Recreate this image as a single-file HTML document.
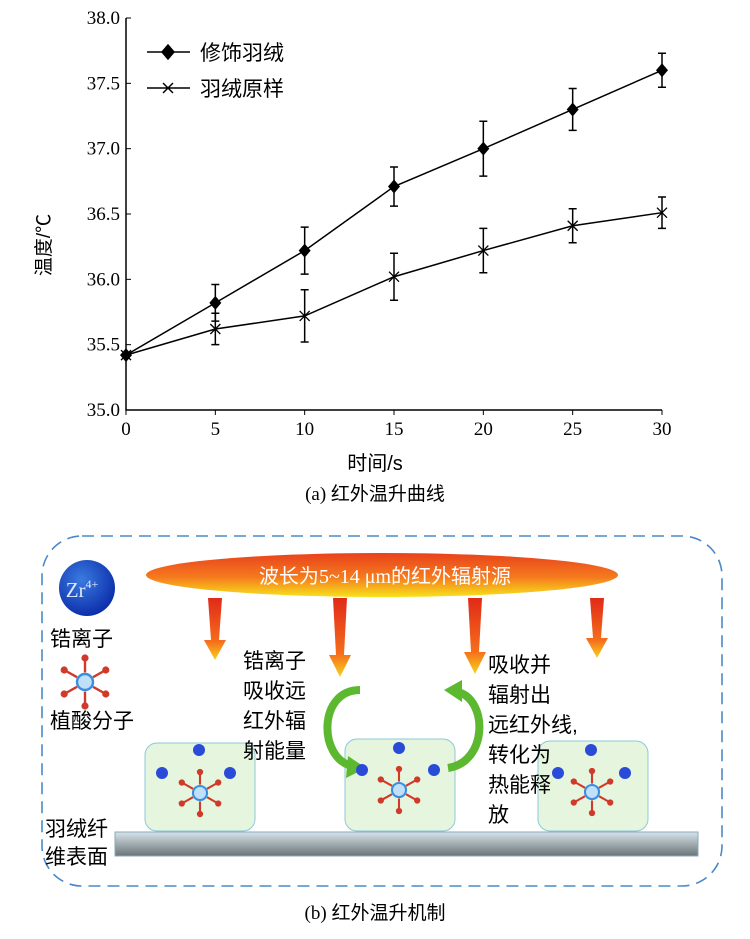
<!DOCTYPE html>
<html><head><meta charset="utf-8"><style>
body{margin:0;background:#fff;width:750px;height:939px;overflow:hidden;font-family:"Liberation Serif","Noto Serif CJK SC",serif}
svg{position:absolute;left:0;top:0}
.cjk{font-family:"Liberation Sans","Noto Sans CJK SC",sans-serif}
</style></head><body>
<svg width="750" height="939">
<defs>
<linearGradient id="ell" x1="0" y1="0" x2="0" y2="1"><stop offset="0" stop-color="#e8421c"/><stop offset="0.55" stop-color="#f57a1e"/><stop offset="1" stop-color="#f7e21a"/></linearGradient>
<linearGradient id="arr" x1="0" y1="0" x2="0" y2="1"><stop offset="0" stop-color="#e02a18"/><stop offset="0.7" stop-color="#f56d1c"/><stop offset="1" stop-color="#f8d21a"/></linearGradient>
<radialGradient id="zr" cx="0.4" cy="0.35" r="0.7"><stop offset="0" stop-color="#3a7be0"/><stop offset="1" stop-color="#0a2aa8"/></radialGradient>
<linearGradient id="bar" x1="0" y1="0" x2="0" y2="1"><stop offset="0" stop-color="#d8e4ea"/><stop offset="1" stop-color="#6a7478"/></linearGradient>
<g id="mol">
<g stroke="#d03a2a" stroke-width="3" fill="#d03a2a">
<line x1="0" y1="-12" x2="0" y2="-30"/><line x1="0" y1="12" x2="0" y2="30"/>
<line x1="-10" y1="-6" x2="-26" y2="-15"/><line x1="10" y1="-6" x2="26" y2="-15"/>
<line x1="-10" y1="6" x2="-26" y2="15"/><line x1="10" y1="6" x2="26" y2="15"/>
<circle cx="0" cy="-30" r="3"/><circle cx="0" cy="30" r="3"/><circle cx="-26" cy="-15" r="3"/><circle cx="26" cy="-15" r="3"/><circle cx="-26" cy="15" r="3"/><circle cx="26" cy="15" r="3"/>
</g>
<circle r="10" fill="#bfe0f8" stroke="#3a8ee0" stroke-width="3"/>
</g>
</defs>

<g id="chart"></g>

<text x="375" y="470" text-anchor="middle" font-size="20" class="cjk">时间/s</text>
<text x="375" y="500" text-anchor="middle" font-size="19">(a) <tspan class="cjk">红外温升曲线</tspan></text>
<text transform="translate(50,245) rotate(-90)" text-anchor="middle" font-size="19" class="cjk">温度/℃</text>

<g>
<rect x="42" y="536" width="680" height="350" rx="40" fill="none" stroke="#4a8ac8" stroke-width="1.6" stroke-dasharray="12,7"/>
<ellipse cx="382" cy="575" rx="236" ry="22" fill="url(#ell)"/>
<text x="385" y="583" text-anchor="middle" font-size="20" fill="#fff"><tspan class="cjk">波长为</tspan>5~14 μm<tspan class="cjk">的红外辐射源</tspan></text>
<g>
<path d="M208,598 L222,598 L219,640 L226,640 L215,660 L204,640 L211,640Z" fill="url(#arr)"/>
<path d="M333,598 L347,598 L344,655 L351,655 L340,677 L329,655 L336,655Z" fill="url(#arr)"/>
<path d="M468,598 L482,598 L479,652 L486,652 L475,674 L464,652 L471,652Z" fill="url(#arr)"/>
<path d="M590,598 L604,598 L601,638 L608,638 L597,658 L586,638 L593,638Z" fill="url(#arr)"/>
</g>
<circle cx="87" cy="588" r="28" fill="url(#zr)"/>
<text x="82" y="597" text-anchor="middle" font-size="21" fill="#dfe8ff">Zr<tspan font-size="12" dy="-9">4+</tspan></text>
<text x="50" y="646" font-size="21" class="cjk">锆离子</text>
<use href="#mol" transform="translate(85,682) scale(0.8)"/>
<text x="50" y="728" font-size="21" class="cjk">植酸分子</text>
<rect x="145" y="743" width="110" height="88" rx="12" fill="#e6f5de" stroke="#8cc8d8"/>
<rect x="345" y="739" width="110" height="92" rx="12" fill="#e6f5de" stroke="#8cc8d8"/>
<rect x="538" y="741" width="110" height="90" rx="12" fill="#e6f5de" stroke="#8cc8d8"/>
<path d="M360,690 C318,690 318,758 352,766" fill="none" stroke="#5cb82e" stroke-width="8"/>
<path d="M348,756 L366,768 L346,778Z" fill="#5cb82e"/>
<path d="M448,768 C488,762 488,700 458,692" fill="none" stroke="#5cb82e" stroke-width="8"/>
<path d="M462,680 L444,690 L462,702Z" fill="#5cb82e"/>
<use href="#mol" transform="translate(200,793) scale(0.7)"/>
<use href="#mol" transform="translate(399,790) scale(0.7)"/>
<use href="#mol" transform="translate(592,792) scale(0.7)"/>
<g fill="#2a4ad8"><circle cx="199" cy="750" r="6"/><circle cx="162" cy="773" r="6"/><circle cx="230" cy="773" r="6"/><circle cx="399" cy="748" r="6"/><circle cx="362" cy="770" r="6"/><circle cx="434" cy="770" r="6"/><circle cx="591" cy="750" r="6"/><circle cx="558" cy="773" r="6"/><circle cx="625" cy="773" r="6"/></g>
<g font-size="21" class="cjk">
<text x="243" y="668">锆离子</text><text x="243" y="698">吸收远</text><text x="243" y="728">红外辐</text><text x="243" y="758">射能量</text>
</g>
<g font-size="21" class="cjk">
<text x="488" y="672">吸收并</text><text x="488" y="702">辐射出</text><text x="488" y="732">远红外线,</text><text x="488" y="762">转化为</text><text x="488" y="792">热能释</text><text x="488" y="822">放</text>
</g>
<rect x="115" y="832" width="583" height="24" fill="url(#bar)" stroke="#8ab"/>
<text x="45" y="836" font-size="21" class="cjk">羽绒纤</text>
<text x="45" y="864" font-size="21" class="cjk">维表面</text>
</g>
<text x="375" y="919" text-anchor="middle" font-size="19">(b) <tspan class="cjk">红外温升机制</tspan></text>
</svg>
<script>
const xs=[0,5,10,15,20,25,30];
const modified=[35.42,35.82,36.22,36.71,37.0,37.3,37.6];
const modifiedErr=[0,0.14,0.18,0.15,0.21,0.16,0.13];
const original=[35.42,35.62,35.72,36.02,36.22,36.41,36.51];
const originalErr=[0,0.12,0.2,0.18,0.17,0.13,0.12];
const yTicks=[35.0,35.5,36.0,36.5,37.0,37.5,38.0];
const xTicks=[0,5,10,15,20,25,30];
const NS="http://www.w3.org/2000/svg";
const g=document.getElementById('chart');
const X=v=>126+v*(662-126)/30;
const Y=v=>410-(v-35)*(410-18)/3;
function mk(t,a,p){const e=document.createElementNS(NS,t);for(const k in a)e.setAttribute(k,a[k]);(p||g).appendChild(e);return e;}
let e=mk('path',{d:`M126,18 L126,410 L662,410`,fill:'none',stroke:'#000','stroke-width':1.5});


yTicks.forEach(v=>{mk('line',{x1:126,x2:131,y1:Y(v),y2:Y(v),stroke:'#000'});
const t=mk('text',{x:120,y:Y(v)+6,'text-anchor':'end','font-size':19});t.textContent=v.toFixed(1);

});
xTicks.forEach(v=>{mk('line',{x1:X(v),x2:X(v),y1:410,y2:415,stroke:'#000'});
const t=mk('text',{x:X(v),y:435,'text-anchor':'middle','font-size':19});t.textContent=v;

});
function series(vals,errs,marker,name){
const p=mk('polyline',{points:xs.map((x,i)=>X(x)+','+Y(vals[i])).join(' '),fill:'none',stroke:'#000','stroke-width':1.5});


xs.forEach((x,i)=>{const cx=X(x),cy=Y(vals[i]);
if(errs[i]>0){const t=Y(vals[i]+errs[i]),b=Y(vals[i]-errs[i]);
mk('path',{d:`M${cx},${t}L${cx},${b}M${cx-4},${t}L${cx+4},${t}M${cx-4},${b}L${cx+4},${b}`,stroke:'#000','stroke-width':1.5,fill:'none'});}
let m;
if(marker==='d')m=mk('path',{d:`M${cx},${cy-7}L${cx+6},${cy}L${cx},${cy+7}L${cx-6},${cy}Z`,fill:'#000'});
else m=mk('path',{d:`M${cx-5},${cy-5}L${cx+5},${cy+5}M${cx-5},${cy+5}L${cx+5},${cy-5}`,stroke:'#000','stroke-width':1.3});

});}
series(modified,modifiedErr,'d','modified-down');
series(original,originalErr,'x','original-down');
const l1=mk('path',{d:'M147,52L190,52M162,52L168,45L174,52L168,59Z',stroke:'#000','stroke-width':1.5,fill:'#000'});


const l2=mk('path',{d:'M147,88L190,88M163,83L173,93M163,93L173,83',stroke:'#000','stroke-width':1.5,fill:'none'});


let t1=mk('text',{x:200,y:60,'font-size':21,class:'cjk'});t1.textContent='修饰羽绒';


let t2=mk('text',{x:200,y:96,'font-size':21,class:'cjk'});t2.textContent='羽绒原样';


</script>
</body></html>
